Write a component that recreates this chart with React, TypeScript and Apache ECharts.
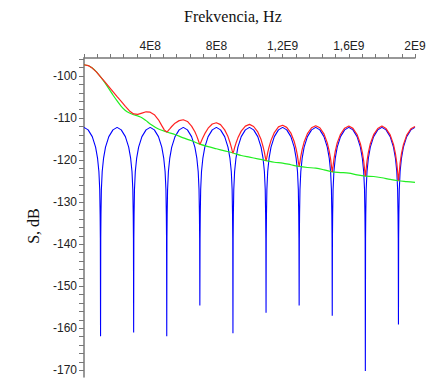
import React, { useEffect, useRef } from "react";
import * as echarts from "echarts";

// Frequencies are in units of 1E8 Hz; levels in dB.
const xLabelValues = [4, 8, 12, 16, 20];
const xLabelTexts = ["4E8", "8E8", "1,2E9", "1,6E9", "2E9"];
const yLabelValues = [-100, -110, -120, -130, -140, -150, -160, -170];

const greenSeries: number[][] = [
  [0, -97.3], [0.25, -97.5], [0.5, -98.1], [0.75, -99.0], [1.0, -100.2], [1.25, -101.5],
  [1.5, -103.0], [1.75, -104.5], [2.0, -105.9], [2.25, -107.2], [2.5, -108.2], [2.75, -108.8],
  [3.0, -109.2], [3.25, -109.5], [3.5, -109.9], [3.75, -110.6], [4.0, -111.4], [4.5, -112.6],
  [5.0, -113.3], [5.5, -113.9], [6.0, -114.7], [6.5, -115.4], [7.0, -116.2], [7.5, -116.8],
  [8.0, -117.3], [8.5, -117.8], [9.0, -118.3], [9.5, -118.9], [10, -119.3], [10.5, -119.7],
  [11, -120.1], [11.5, -120.5], [12, -120.7], [12.5, -121.1], [13, -121.5], [13.5, -121.75],
  [14, -121.9], [14.5, -122.3], [15, -122.8], [15.5, -122.95], [16, -123.1], [16.5, -123.5],
  [17, -123.8], [17.5, -123.9], [18, -124.2], [18.5, -124.6], [19, -124.9], [19.5, -125.1],
  [20, -125.3],
];

const blueSeries: number[][] = [
  [0, -112.2], [0.25, -112.8], [0.5, -114.4], [0.7, -116.9], [0.82, -119.6], [0.9, -122.7], [0.95, -127], [0.975, -133], [0.988, -138.5],
  [1, -161.9],
  [1.012, -138.5], [1.025, -133], [1.05, -127], [1.1, -122.7], [1.18, -119.6], [1.3, -116.9], [1.5, -114.4], [1.75, -112.8],
  [2, -112.2], [2.25, -112.8], [2.5, -114.4], [2.7, -116.9], [2.82, -119.6], [2.9, -122.7], [2.95, -127], [2.975, -133], [2.988, -138.5],
  [3, -161.0],
  [3.012, -138.5], [3.025, -133], [3.05, -127], [3.1, -122.7], [3.18, -119.6], [3.3, -116.9], [3.5, -114.4], [3.75, -112.8],
  [4, -112.2], [4.25, -112.8], [4.5, -114.4], [4.7, -116.9], [4.82, -119.6], [4.9, -122.7], [4.95, -127], [4.975, -133], [4.988, -138.5],
  [5, -161.9],
  [5.012, -138.5], [5.025, -133], [5.05, -127], [5.1, -122.7], [5.18, -119.6], [5.3, -116.9], [5.5, -114.4], [5.75, -112.8],
  [6, -112.2], [6.25, -112.8], [6.5, -114.4], [6.7, -116.9], [6.82, -119.6], [6.9, -122.7], [6.95, -127], [6.975, -133], [6.988, -138.5],
  [7, -154.6],
  [7.012, -138.5], [7.025, -133], [7.05, -127], [7.1, -122.7], [7.18, -119.6], [7.3, -116.9], [7.5, -114.4], [7.75, -112.8],
  [8, -112.2], [8.25, -112.8], [8.5, -114.4], [8.7, -116.9], [8.82, -119.6], [8.9, -122.7], [8.95, -127], [8.975, -133], [8.988, -138.5],
  [9, -161.2],
  [9.012, -138.5], [9.025, -133], [9.05, -127], [9.1, -122.7], [9.18, -119.6], [9.3, -116.9], [9.5, -114.4], [9.75, -112.8],
  [10, -112.2], [10.25, -112.8], [10.5, -114.4], [10.7, -116.9], [10.82, -119.6], [10.9, -122.7], [10.95, -127], [10.975, -133], [10.988, -138.5],
  [11, -156.3],
  [11.012, -138.5], [11.025, -133], [11.05, -127], [11.1, -122.7], [11.18, -119.6], [11.3, -116.9], [11.5, -114.4], [11.75, -112.8],
  [12, -112.2], [12.25, -112.8], [12.5, -114.4], [12.7, -116.9], [12.82, -119.6], [12.9, -122.7], [12.95, -127], [12.975, -133], [12.988, -138.5],
  [13, -154.6],
  [13.012, -138.5], [13.025, -133], [13.05, -127], [13.1, -122.7], [13.18, -119.6], [13.3, -116.9], [13.5, -114.4], [13.75, -112.8],
  [14, -112.2], [14.25, -112.8], [14.5, -114.4], [14.7, -116.9], [14.82, -119.6], [14.9, -122.7], [14.95, -127], [14.975, -133], [14.988, -138.5],
  [15, -157.0],
  [15.012, -138.5], [15.025, -133], [15.05, -127], [15.1, -122.7], [15.18, -119.6], [15.3, -116.9], [15.5, -114.4], [15.75, -112.8],
  [16, -112.2], [16.25, -112.8], [16.5, -114.4], [16.7, -116.9], [16.82, -119.6], [16.9, -122.7], [16.95, -127], [16.975, -133], [16.988, -138.5],
  [17, -170.2],
  [17.012, -138.5], [17.025, -133], [17.05, -127], [17.1, -122.7], [17.18, -119.6], [17.3, -116.9], [17.5, -114.4], [17.75, -112.8],
  [18, -112.2], [18.25, -112.8], [18.5, -114.4], [18.7, -116.9], [18.82, -119.6], [18.9, -122.7], [18.95, -127], [18.975, -133], [18.988, -138.5],
  [19, -159.1],
  [19.012, -138.5], [19.025, -133], [19.05, -127], [19.1, -122.7], [19.18, -119.6], [19.3, -116.9], [19.5, -114.4], [19.75, -112.8],
  [20, -112.2],
];

const redSeries: number[][] = [
  [0, -97.3], [0.25, -97.5], [0.5, -98.1], [0.75, -99.0], [1.0, -100.2], [1.25, -101.3], [1.5, -102.5],
  [1.75, -103.7], [2.0, -104.9], [2.25, -106.0], [2.5, -107.2], [2.75, -108.3], [3.0, -109.0], [3.25, -109.1],
  [3.5, -108.8], [3.75, -108.5], [4.0, -108.6], [4.25, -109.2], [4.5, -110.4], [4.7, -111.8], [4.85, -112.8], [5.0, -113.3],
  [5.05, -113.2], [5.1, -112.9], [5.18, -112.55], [5.3, -112.0], [5.5, -111.2], [5.75, -110.6], [6.0, -110.4], [6.25, -110.8], [6.5, -111.9], [6.7, -113.25], [6.82, -114.35], [6.9, -115.2], [6.95, -115.8], [7.0, -116.2],
  [7.05, -115.9], [7.1, -115.4], [7.18, -114.7], [7.3, -113.7], [7.5, -112.4], [7.75, -111.4], [8.0, -111.1], [8.25, -111.55], [8.5, -112.8], [8.7, -114.4], [8.82, -115.8], [8.9, -116.9], [8.95, -117.7], [9.0, -118.3],
  [9.05, -117.8], [9.1, -117.0], [9.18, -116.0], [9.3, -114.7], [9.5, -113.1], [9.75, -111.9], [10, -111.5], [10.25, -112.0], [10.5, -113.3], [10.7, -115.1], [10.82, -116.8], [10.9, -118.1], [10.95, -119.25], [11, -120.1],
  [11.05, -119.3], [11.1, -118.2], [11.18, -116.9], [11.3, -115.3], [11.5, -113.45], [11.75, -112.1], [12, -111.7], [12.25, -112.2], [12.5, -113.55], [12.7, -115.55], [12.82, -117.4], [12.9, -119.0], [12.95, -120.4], [13, -121.5],
  [13.05, -120.4], [13.1, -119.1], [13.18, -117.5], [13.3, -115.7], [13.5, -113.7], [13.75, -112.3], [14, -111.8], [14.25, -112.3], [14.5, -113.75], [14.7, -115.9], [14.82, -117.9], [14.9, -119.7], [14.95, -121.4], [15, -122.8],
  [15.05, -121.4], [15.1, -119.8], [15.18, -117.9], [15.3, -115.9], [15.5, -113.85], [15.75, -112.4], [16, -111.9], [16.25, -112.45], [16.5, -113.9], [16.7, -116.1], [16.82, -118.2], [16.9, -120.2], [16.95, -122.1], [17, -123.8],
  [17.05, -122.1], [17.1, -120.2], [17.18, -118.2], [17.3, -116.1], [17.5, -113.95], [17.75, -112.5], [18, -111.9], [18.25, -112.5], [18.5, -114.0], [18.7, -116.25], [18.82, -118.5], [18.9, -120.7], [18.95, -122.8], [19, -124.9],
  [19.05, -122.9], [19.1, -120.7], [19.18, -118.5], [19.3, -116.3], [19.5, -114.05], [19.75, -112.55], [20, -112.0],
];

const xTickValues: number[] = [];
for (let i = 0; i <= 25; i++) xTickValues.push(Math.round(i * 0.8 * 100) / 100);
const yTickValues: number[] = [];
for (let v = -170; v <= -96; v += 2) yTickValues.push(v);

export default function App() {
  const ref = useRef<HTMLDivElement>(null);
  useEffect(() => {
    if (!ref.current) return;
    const chart = echarts.init(ref.current, undefined, { renderer: "svg" });
    const axisColor = "#777777";
    const labelStyle = {
      color: "#222222",
      fontFamily: "Liberation Sans, Arial, sans-serif",
      fontSize: 12,
    };
    chart.setOption({
      animation: false,
      backgroundColor: "#ffffff",
      grid: { left: 84, right: 28, top: 58, bottom: 12, containLabel: false },
      graphic: [
        {
          type: "text",
          left: 236 - 52,
          top: 8,
          style: {
            text: "Frekvencia, Hz",
            fontFamily: "Liberation Serif, Times New Roman, serif",
            fontSize: 16,
            fill: "#111111",
          },
        },
        {
          type: "text",
          x: 33,
          y: 226,
          rotation: Math.PI / 2,
          style: {
            text: "S, dB",
            fontFamily: "Liberation Serif, Times New Roman, serif",
            fontSize: 16,
            fill: "#111111",
            align: "center",
            verticalAlign: "middle",
          },
        },
      ],
      xAxis: {
        type: "value",
        position: "top",
        min: 0,
        max: 20,
        splitLine: { show: false },
        axisLine: { show: true, onZero: false, lineStyle: { color: axisColor, width: 1.5 } },
        axisTick: {
          show: true,
          inside: false,
          length: 4,
          customValues: xTickValues,
          lineStyle: { color: axisColor, width: 1 },
        },
        axisLabel: {
          ...labelStyle,
          margin: 6,
          customValues: xLabelValues,
          formatter: (v: number) => {
            const i = xLabelValues.indexOf(v);
            return i >= 0 ? xLabelTexts[i] : "";
          },
        },
      },
      yAxis: {
        type: "value",
        min: -171.6,
        max: -95.7,
        splitLine: { show: false },
        axisLine: { show: true, onZero: false, lineStyle: { color: axisColor, width: 1.5 } },
        axisTick: {
          show: true,
          inside: false,
          length: 5,
          customValues: yTickValues,
          lineStyle: { color: axisColor, width: 1 },
        },
        axisLabel: {
          ...labelStyle,
          margin: 7,
          customValues: yLabelValues,
          formatter: (v: number) => String(v),
        },
      },
      series: [
        {
          type: "line",
          name: "blue",
          data: blueSeries,
          showSymbol: false,
          symbol: "none",
          lineStyle: { color: "#0000ff", width: 1.1 },
          z: 2,
        },
        {
          type: "line",
          name: "green",
          data: greenSeries,
          showSymbol: false,
          symbol: "none",
          smooth: 0.3,
          lineStyle: { color: "#22ee22", width: 1.2 },
          z: 3,
        },
        {
          type: "line",
          name: "red",
          data: redSeries,
          showSymbol: false,
          symbol: "none",
          lineStyle: { color: "#ff2222", width: 1.2 },
          z: 4,
        },
      ],
    });
    return () => chart.dispose();
  }, []);
  return (
    <div
      ref={ref}
      style={{ position: "absolute", left: 0, top: 0, width: 443, height: 389, background: "#fff" }}
    />
  );
}
